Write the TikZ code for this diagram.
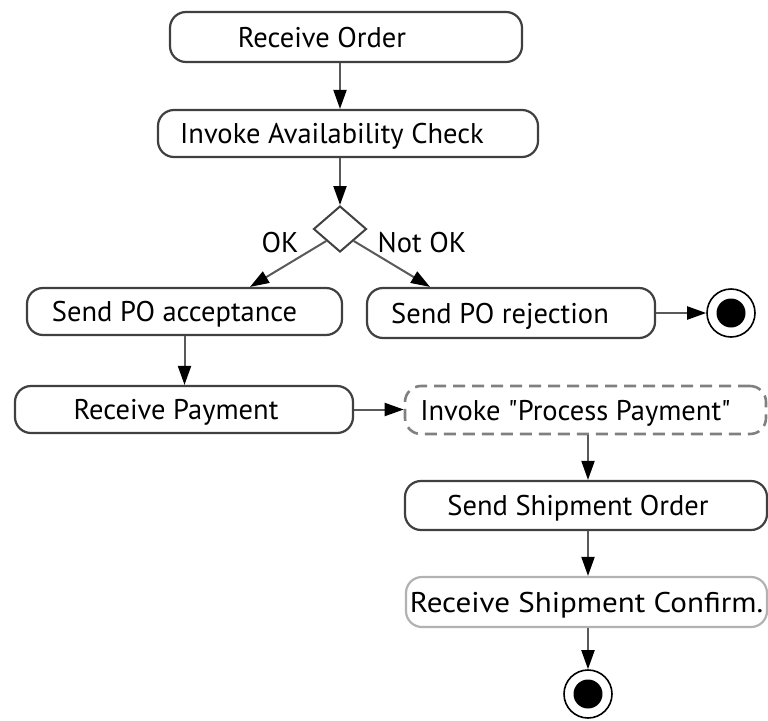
\documentclass[tikz,border=0pt]{standalone}
\usepackage{graphicx}
\usepackage{fontspec}
\setmainfont{PT Sans}[Ligatures=TeXOff]
\usetikzlibrary{shapes.geometric,arrows.meta,calc}
\tikzset{
  act/.style={draw=black!75, line width=2.2pt, rounded corners=16pt, inner sep=0pt,
    font=\fontsize{28.5}{32}\selectfont, text height=20pt, text depth=0pt},
  dashact/.style={act, draw=black!50, line width=2.6pt, dash pattern=on 12pt off 7pt},
  lightact/.style={act, draw=black!30},
  decision/.style={diamond, draw=black!75, line width=2pt, inner sep=0pt,
    minimum width=53pt, minimum height=46pt},
  finalnode/.style={circle, draw=black, line width=1.6pt, minimum size=48pt, inner sep=0pt,
    path picture={\fill[black] (path picture bounding box.center) circle (14.5pt);}},
  lbl/.style={font=\fontsize{28.5}{32}\selectfont, inner sep=0pt},
  conn/.style={draw=black!65, line width=2pt, -{Triangle[length=19pt,width=13pt,color=black]}}
}
\begin{document}
\begin{tikzpicture}[x=1pt,y=-1pt]
\useasboundingbox (0,0) rectangle (768,720);
\node[act, minimum width=352pt, minimum height=50pt] (ro) at (346,37) {Receive Order\hspace*{48pt}};
\node[act, minimum width=380pt, minimum height=47pt] (iac) at (348,133.5) {Invoke Availability Check\hspace*{32pt}};
\node[decision] (d) at (340,229) {};
\node[lbl] (ok) at (280,243) {OK};
\node[lbl] (nok) at (422,243) {Not OK};
\node[act, minimum width=315pt, minimum height=47pt] (spa) at (184.5,311.5) {Send PO acceptance\hspace*{20pt}};
\node[act, minimum width=288pt, minimum height=50pt] (spr) at (511,313) {Send PO rejection\hspace*{22pt}};
\node[finalnode] (e1) at (731,313) {};
\node[act, minimum width=338pt, minimum height=47pt] (rp) at (184,409.5) {Receive Payment\hspace*{16pt}};
\node[dashact, minimum width=361pt, minimum height=48pt] (ipp) at (585.5,410) {Invoke "Process Payment"\hspace*{20pt}};
\node[act, minimum width=362pt, minimum height=49pt] (sso) at (586,505.5) {Send Shipment Order\hspace*{16pt}};
\node[lightact, minimum width=361pt, minimum height=50pt] (rsc) at (586.5,602) {\scalebox{1.09}[1]{Receive Shipment Confirm.}};
\node[finalnode] (e2) at (588,694) {};

\draw[conn] (ro.south -| d.north) -- (iac.north -| d.north);
\draw[conn] (iac.south -| d.north) -- (d.north);
\draw[conn] (d.south west) -- ($(spa.north)+(65.5,0)$);
\draw[conn] (d.south east) -- ($(spr.north)+(-81,0)$);
\draw[conn] (spr.east) -- (e1.west);
\draw[conn] (spa.south) -- (spa.south |- rp.north);
\draw[conn] (rp.east) -- (rp.east -| ipp.west);
\draw[conn] (ipp.south -| e2.north) -- (sso.north -| e2.north);
\draw[conn] (sso.south -| e2.north) -- (rsc.north -| e2.north);
\draw[conn] (rsc.south -| e2.north) -- (e2.north);
\end{tikzpicture}
\end{document}
